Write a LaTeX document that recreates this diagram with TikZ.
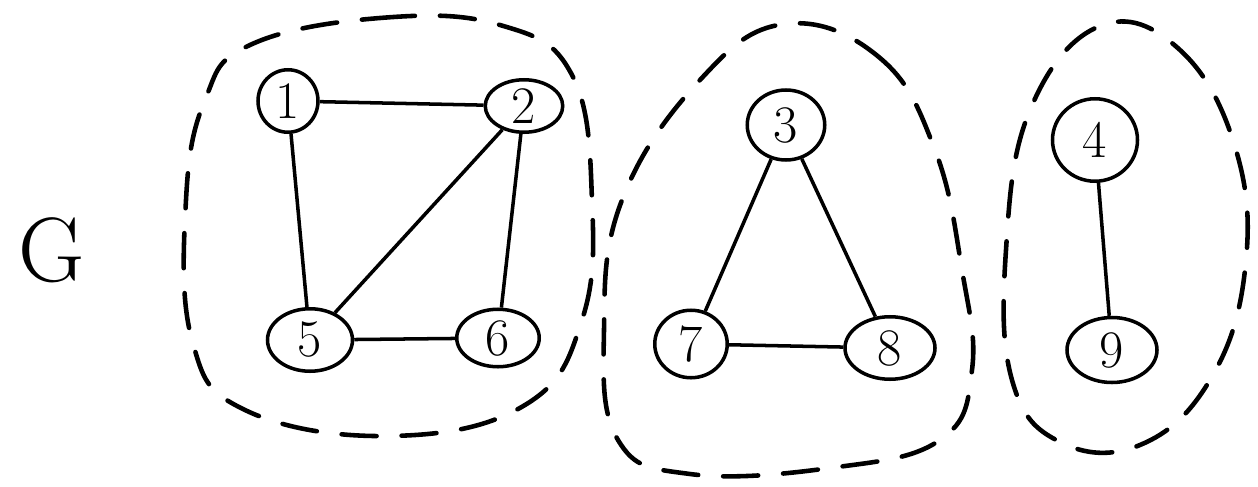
\documentclass[tikz,border=0pt]{standalone}
\usetikzlibrary{shapes.geometric}

\begin{document}
\begin{tikzpicture}[
    x=0.2mm, y=-0.2mm,
    every node/.style={font=\fontsize{30}{34}\selectfont},
    vert/.style={draw, ellipse, line width=2pt, inner sep=0pt,
                 minimum width=15.5mm, minimum height=12.5mm},
    edge/.style={line width=2pt},
    comp/.style={line width=2.6pt, dash pattern=on 7mm off 5mm, line cap=round}
  ]
    \useasboundingbox (0,0) rectangle (1258,487);

    % Nombre del grafo
    \node[font=\fontsize{52}{56}\selectfont] (g) at (52,250) {G};

    % Primera componente: 1, 2, 5, 6
    \node[vert, minimum width=12mm] (n1) at (288,101) {1};
    \node[vert, minimum height=10.5mm] (n2) at (524,106) {2};
    \node[vert, minimum width=17mm] (n5) at (310,340) {5};
    \node[vert, minimum width=16.5mm, minimum height=11.5mm] (n6) at (498,338) {6};

    % Segunda componente: 3, 7, 8
    \node[vert, minimum height=14mm] (n3) at (786,125) {3};
    \node[vert, minimum width=14.5mm, minimum height=13.5mm] (n7) at (691,344) {7};
    \node[vert, minimum width=18mm] (n8) at (890,348) {8};

    % Tercera componente: 4, 9
    \node[vert, minimum width=17mm, minimum height=16.5mm] (n4) at (1095,140) {4};
    \node[vert, minimum width=18mm, minimum height=13mm] (n9) at (1112,350) {9};

    % Aristas
    \draw[edge] (n1) -- (n2);
    \draw[edge] (n1) -- (n5);
    \draw[edge] (n2) -- (n5);
    \draw[edge] (n2) -- (n6);
    \draw[edge] (n5) -- (n6);
    \draw[edge] (n3) -- (n7);
    \draw[edge] (n3) -- (n8);
    \draw[edge] (n7) -- (n8);
    \draw[edge] (n4) -- (n9);

    % Contornos de las componentes
    \draw[comp] plot[smooth cycle, tension=0.7] coordinates {
      (250,45) (380,18) (500,25) (572,75) (592,200) (582,320)
      (525,405) (390,436) (245,410) (192,340) (186,200) (205,100)};
    \draw[comp] plot[smooth cycle, tension=0.7] coordinates {
      (785,24) (880,58) (935,150) (962,270) (972,370) (940,440)
      (830,468) (690,474) (618,440) (604,330) (622,200) (700,80)};
    \draw[comp] plot[smooth cycle, tension=0.7] coordinates {
      (1100,26) (1180,50) (1236,150) (1245,270) (1210,380) (1140,445)
      (1060,442) (1012,380) (1006,250) (1030,110)};
\end{tikzpicture}
\end{document}
